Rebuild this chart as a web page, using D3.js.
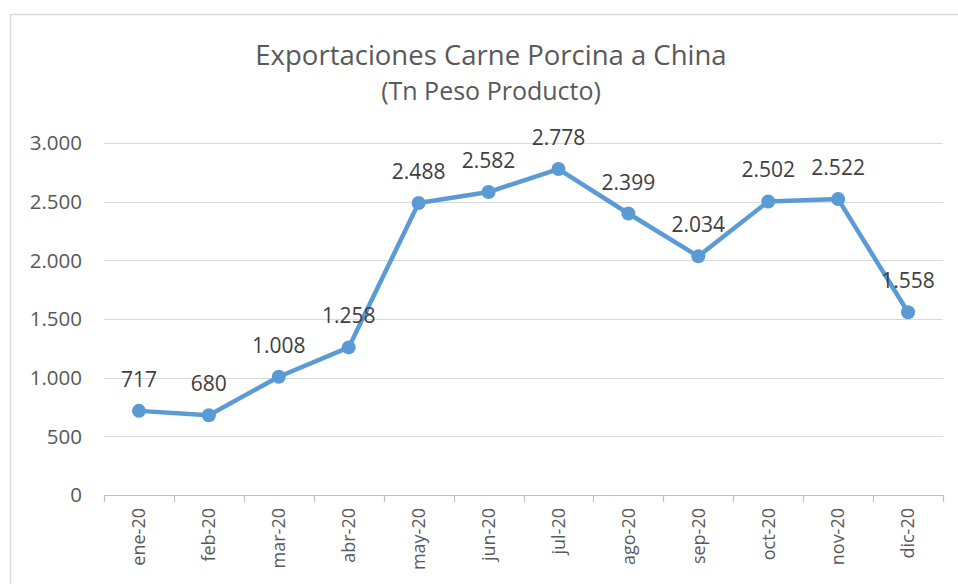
<!DOCTYPE html>
<html>
<head>
<meta charset="utf-8">
<script src="https://cdn.jsdelivr.net/npm/d3@7"></script>
<style>
  body { margin: 0; background: #fff; }
  text { font-family: "Open Sans", "Liberation Sans", sans-serif; }
</style>
</head>
<body>
<svg id="chart" width="958" height="584"></svg>
<script>
const months = ["ene-20", "feb-20", "mar-20", "abr-20", "may-20", "jun-20",
  "jul-20", "ago-20", "sep-20", "oct-20", "nov-20", "dic-20"];
const tons = [717, 680, 1008, 1258, 2488, 2582, 2778, 2399, 2034, 2502, 2522, 1558];
const yTicks = [0, 500, 1000, 1500, 2000, 2500, 3000];
const title = "Exportaciones Carne Porcina a China";
const subtitle = "(Tn Peso Producto)";

const svg = d3.select("#chart");
const plotL = 104, plotR = 943, plotT = 143, plotB = 495;

// chart frame (cut off on the right and bottom like the screenshot)
svg.append("path")
  .attr("d", "M10.5,600 V14.5 H958")
  .attr("fill", "none")
  .attr("stroke", "#d9d9d9")
  .attr("stroke-width", 1.5);

const x = d3.scaleBand().domain(months).range([plotL, plotR]);
const y = d3.scaleLinear().domain([0, 3000]).range([plotB, plotT]);

// number format with dot thousands separator
const fmt = d3.formatLocale({ decimal: ",", thousands: ".", grouping: [3], currency: ["", ""] }).format(",d");

// gridlines
svg.append("g")
  .selectAll("line")
  .data(yTicks.filter(d => d > 0))
  .enter()
  .append("line")
  .attr("x1", plotL).attr("x2", plotR)
  .attr("y1", d => Math.round(y(d)) + 0.5)
  .attr("y2", d => Math.round(y(d)) + 0.5)
  .attr("stroke", "#d9d9d9")
  .attr("stroke-width", 1.2);

// y labels
svg.append("g")
  .selectAll("text")
  .data(yTicks)
  .enter()
  .append("text")
  .attr("x", 82)
  .attr("y", d => y(d))
  .attr("dy", "0.35em")
  .attr("text-anchor", "end")
  .attr("font-size", 20.5)
  .attr("fill", "#595959")
  .text(d => fmt(d));

// x axis line + ticks at category boundaries
const xAxis = svg.append("g");
xAxis.append("line")
  .attr("x1", plotL).attr("x2", plotR)
  .attr("y1", plotB + 0.5).attr("y2", plotB + 0.5)
  .attr("stroke", "#bfbfbf").attr("stroke-width", 1.2);
xAxis.selectAll("line.tick")
  .data(months.map(m => x(m)).concat([plotR]))
  .enter()
  .append("line")
  .attr("class", "tick")
  .attr("x1", d => Math.round(d) + 0.5).attr("x2", d => Math.round(d) + 0.5)
  .attr("y1", plotB).attr("y2", plotB + 7)
  .attr("stroke", "#bfbfbf").attr("stroke-width", 1.2);

xAxis.selectAll("text")
  .data(months)
  .enter()
  .append("text")
  .attr("transform", d => `translate(${x(d) + x.bandwidth() / 2},${plotB + 13}) rotate(-90)`)
  .attr("text-anchor", "end")
  .attr("dy", "0.35em")
  .attr("font-size", 18)
  .attr("fill", "#595959")
  .text(d => d);

// line + markers
const pts = months.map((m, i) => [x(m) + x.bandwidth() / 2, y(tons[i])]);
svg.append("path")
  .attr("d", d3.line()(pts))
  .attr("fill", "none")
  .attr("stroke", "#5b9bd5")
  .attr("stroke-width", 4.5)
  .attr("stroke-linejoin", "round");

svg.append("g")
  .selectAll("circle")
  .data(pts)
  .enter()
  .append("circle")
  .attr("cx", d => d[0]).attr("cy", d => d[1])
  .attr("r", 7)
  .attr("fill", "#5b9bd5");

// data labels
svg.append("g")
  .selectAll("text")
  .data(pts)
  .enter()
  .append("text")
  .attr("x", d => d[0])
  .attr("y", d => d[1] - 24)
  .attr("text-anchor", "middle")
  .attr("font-size", 21)
  .attr("fill", "#404040")
  .text((d, i) => fmt(tons[i]));

// titles
svg.append("text")
  .attr("x", 491).attr("y", 65)
  .attr("text-anchor", "middle")
  .attr("font-size", 27.5)
  .attr("fill", "#595959")
  .text(title);
svg.append("text")
  .attr("x", 491).attr("y", 100)
  .attr("text-anchor", "middle")
  .attr("font-size", 25)
  .attr("fill", "#595959")
  .text(subtitle);
</script>
</body>
</html>
